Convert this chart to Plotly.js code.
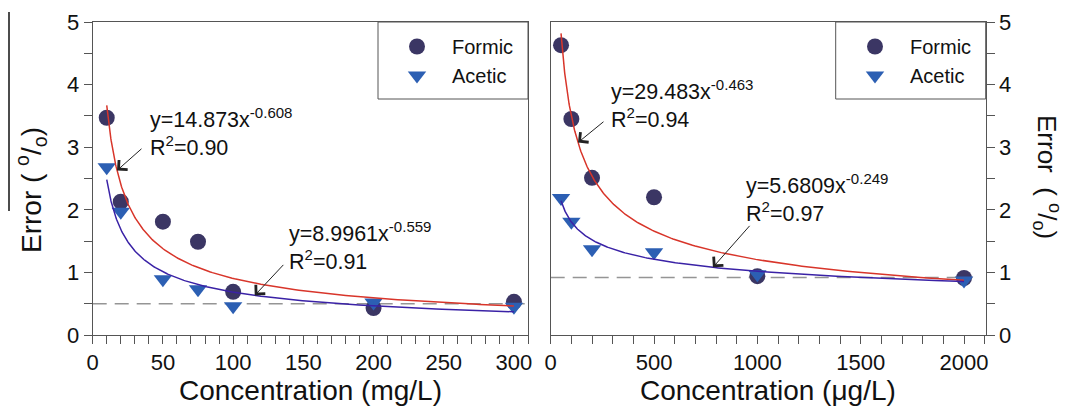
<!DOCTYPE html>
<html>
<head>
<meta charset="utf-8">
<script src="https://cdn.plot.ly/plotly-3.0.1.min.js"></script>
<style>html,body{margin:0;padding:0;background:#fff;}#chart{width:1065px;height:409px;}</style>
</head>
<body>
<div id="chart"></div>
<script>
// ---- data ----
const leftX = [10, 20, 50, 75, 100, 200, 300];          // mg/L
const leftFormic = [3.47, 2.13, 1.81, 1.49, 0.69, 0.43, 0.53];
const leftAcetic = [2.68, 1.97, 0.89, 0.73, 0.46, 0.52, 0.45];
const rightX = [50, 100, 200, 500, 1000, 2000];          // µg/L
const rightFormic = [4.63, 3.45, 2.51, 2.20, 0.94, 0.91];
const rightAcetic = [2.19, 1.81, 1.37, 1.32, 0.97, 0.87];
// power-law fits printed on the chart: y = a * x^b
const leftFitA = [14.873, 8.9961];
const leftFitB = [-0.608, -0.559];
const rightFitA = [29.483, 5.6809];
const rightFitB = [-0.463, -0.249];
const fitLabels = ["y=14.873x<sup>-0.608</sup><br>R<sup>2</sup>=0.90",
                   "y=8.9961x<sup>-0.559</sup><br>R<sup>2</sup>=0.91",
                   "y=29.483x<sup>-0.463</sup><br>R<sup>2</sup>=0.94",
                   "y=5.6809x<sup>-0.249</sup><br>R<sup>2</sup>=0.97"];
const refLevel = [0.5, 0.92];
const seriesNames = ["Formic", "Acetic"];

// ---- helpers ----
const W = 1065, H = 409;
const px = v => v / W;
const py = v => 1 - v / H;
function fitCurve(a, b, x0, x1) {
  const xs = [], ys = [];
  const n = 200;
  for (let i = 0; i <= n; i++) {
    const x = x0 * Math.pow(x1 / x0, i / n);
    xs.push(x); ys.push(a * Math.pow(x, b));
  }
  return {xs, ys};
}
const FONT = "Liberation Sans, Arial, sans-serif";
const cFormic = "#3b3664", cAcetic = "#2c5fb3", cRed = "#d8352a", cBlue = "#3a22a6";
const axCol = "#555";

const traces = [];
function addPanel(xs, formic, acetic, fitA, fitB, xa, ya, leg) {
  traces.push({x: xs, y: formic, xaxis: xa, yaxis: ya, mode: "markers", name: seriesNames[0], legend: leg,
    marker: {symbol: "circle", size: 16, color: cFormic, line: {width: 0}}});
  traces.push({x: xs, y: acetic, xaxis: xa, yaxis: ya, mode: "markers", name: seriesNames[1], legend: leg,
    marker: {symbol: "triangle-down", size: 16, color: cAcetic, line: {width: 0}}});
  const x0 = xs[0], x1 = xs[xs.length - 1];
  const f1 = fitCurve(fitA[0], fitB[0], x0, x1);
  const f2 = fitCurve(fitA[1], fitB[1], x0, x1);
  traces.push({x: f1.xs, y: f1.ys, xaxis: xa, yaxis: ya, mode: "lines", showlegend: false, hoverinfo: "skip",
    line: {color: cRed, width: 1.5}});
  traces.push({x: f2.xs, y: f2.ys, xaxis: xa, yaxis: ya, mode: "lines", showlegend: false, hoverinfo: "skip",
    line: {color: cBlue, width: 1.5}});
}
addPanel(leftX, leftFormic, leftAcetic, leftFitA, leftFitB, "x", "y", "legend");
addPanel(rightX, rightFormic, rightAcetic, rightFitA, rightFitB, "x2", "y2", "legend2");

const tickFont = {family: FONT, size: 22, color: "#111"};
const commonAxis = {showgrid: false, zeroline: false, showline: true, linecolor: axCol, linewidth: 1,
  mirror: true, ticks: "outside", ticklen: 8, tickwidth: 1, tickcolor: axCol, tickfont: tickFont, automargin: false};
const yDomain = [1 - 335 / H, 1 - 22 / H];

const annotations = [];
// axis titles
annotations.push({xref: "paper", yref: "paper", x: px(310.5), y: py(390), text: "Concentration (mg/L)",
  showarrow: false, font: {family: FONT, size: 28, color: "#111"}, xanchor: "center", yanchor: "middle"});
annotations.push({xref: "paper", yref: "paper", x: px(768), y: py(390), text: "Concentration (\u03bcg/L)",
  showarrow: false, font: {family: FONT, size: 28, color: "#111"}, xanchor: "center", yanchor: "middle"});
annotations.push({xref: "paper", yref: "paper", x: px(31), y: py(190), text: "Error ( <sup>o</sup>/<sub>o</sub>)",
  textangle: -90, showarrow: false, font: {family: FONT, size: 28, color: "#111"}, xanchor: "center", yanchor: "middle"});
annotations.push({xref: "paper", yref: "paper", x: px(1047), y: py(177), text: "Error  ( <sup>o</sup>/<sub>o</sub>)",
  textangle: 90, showarrow: false, font: {family: FONT, size: 26, color: "#111"}, xanchor: "center", yanchor: "middle"});
// fit labels
const labelPos = [[148, 132], [287, 246], [609, 104], [744, 198]];
labelPos.forEach((p, i) => {
  annotations.push({xref: "paper", yref: "paper", x: px(p[0]), y: py(p[1]), text: fitLabels[i], showarrow: false,
    align: "left", xanchor: "left", yanchor: "middle", font: {family: FONT, size: 21.5, color: "#111"}});
});
// arrows (tip on the fitted curve)
const arrowTips = [
  {xref: "x", yref: "y", x: 17.3, a: leftFitA[0], b: leftFitB[0], ax: 26, ay: -23},
  {xref: "x", yref: "y", x: 115.4, a: leftFitA[1], b: leftFitB[1], ax: 30, ay: -32},
  {xref: "x2", yref: "y2", x: 132, a: rightFitA[0], b: rightFitB[0], ax: 27, ay: -22},
  {xref: "x2", yref: "y2", x: 785, a: rightFitA[1], b: rightFitB[1], ax: 38, ay: -43}
];
arrowTips.forEach(t => {
  annotations.push({xref: t.xref, yref: t.yref, x: t.x, y: t.a * Math.pow(t.x, t.b), text: "", showarrow: true,
    ax: t.ax, ay: t.ay, arrowhead: 4, arrowsize: 2.5, arrowwidth: 1, arrowcolor: "#222", standoff: 0});
});

const shapes = [
  // reference dashed levels
  {type: "line", xref: "x domain", yref: "y", x0: 0, x1: 0.995, y0: refLevel[0], y1: refLevel[0],
    line: {color: "#959595", width: 1.5, dash: "14px,8px"}, layer: "below"},
  {type: "line", xref: "x2 domain", yref: "y2", x0: 0, x1: 0.97, y0: refLevel[1], y1: refLevel[1],
    line: {color: "#959595", width: 1.5, dash: "14px,8px"}, layer: "below"},
  // legend boxes
  {type: "rect", xref: "paper", yref: "paper", x0: px(378), x1: px(528), y0: py(99), y1: py(22),
    line: {color: axCol, width: 1}, fillcolor: "rgba(255,255,255,0)"},
  {type: "rect", xref: "paper", yref: "paper", x0: px(835.7), x1: px(985.7), y0: py(99), y1: py(22),
    line: {color: axCol, width: 1}, fillcolor: "rgba(255,255,255,0)"},
  // stray vertical rule at the far left of the figure
  {type: "line", xref: "paper", yref: "paper", x0: px(9), x1: px(9), y0: py(12), y1: py(211),
    line: {color: "#111", width: 1.5}}
];

const legendCommon = {font: {family: FONT, size: 20, color: "#111"}, bgcolor: "rgba(0,0,0,0)", borderwidth: 0,
  xanchor: "left", yanchor: "top", itemwidth: 60, tracegroupgap: 0};

const layout = {
  width: W, height: H,
  margin: {l: 0, r: 0, t: 0, b: 0},
  paper_bgcolor: "#fff", plot_bgcolor: "#fff",
  font: {family: FONT, color: "#111"},
  xaxis: Object.assign({}, commonAxis, {domain: [px(92.7), px(528)], range: [0, 310], anchor: "y",
    tick0: 0, dtick: 50, minor: {dtick: 10, ticks: "outside", ticklen: 8, tickcolor: axCol, tickwidth: 1}}),
  yaxis: Object.assign({}, commonAxis, {domain: yDomain, range: [0, 5], anchor: "x", tick0: 0, dtick: 1,
    minor: {dtick: 0.5, ticks: "outside", ticklen: 8, tickcolor: axCol, tickwidth: 1}}),
  xaxis2: Object.assign({}, commonAxis, {domain: [px(550.7), px(985.7)], range: [0, 2105], anchor: "y2",
    tick0: 0, dtick: 500, minor: {dtick: 100, ticks: "outside", ticklen: 8, tickcolor: axCol, tickwidth: 1}}),
  yaxis2: Object.assign({}, commonAxis, {domain: yDomain, range: [0, 5], anchor: "x2", side: "right", tick0: 0, dtick: 1,
    minor: {dtick: 0.5, ticks: "outside", ticklen: 8, tickcolor: axCol, tickwidth: 1}}),
  legend: Object.assign({}, legendCommon, {x: px(382), y: py(27)}),
  legend2: Object.assign({}, legendCommon, {x: px(840), y: py(27)}),
  annotations: annotations,
  shapes: shapes,
  showlegend: true
};

Plotly.newPlot("chart", traces, layout, {staticPlot: true, displayModeBar: false});
</script>
</body>
</html>
